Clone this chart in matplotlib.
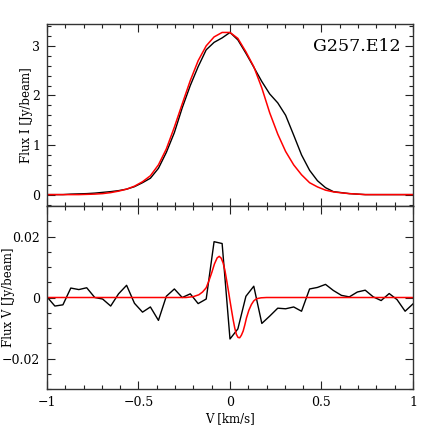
import matplotlib
matplotlib.use("Agg")
import matplotlib.pyplot as plt
from matplotlib.ticker import MultipleLocator

# --- channel velocities (km/s) ---
vel = [-1.000, -0.957, -0.913, -0.870, -0.826, -0.783, -0.739, -0.696,
       -0.652, -0.609, -0.565, -0.522, -0.478, -0.435, -0.391, -0.348,
       -0.304, -0.261, -0.217, -0.174, -0.130, -0.087, -0.043, 0.000,
       0.043, 0.087, 0.130, 0.174, 0.217, 0.261, 0.304, 0.348,
       0.391, 0.435, 0.478, 0.522, 0.565, 0.609, 0.652, 0.696,
       0.739, 0.783, 0.826, 0.870, 0.913, 0.957, 1.000]

# --- Stokes I: observed and model ---
flux_i = [0.0, 0.0, 0.0, 0.01, 0.015, 0.02, 0.03, 0.045,
          0.06, 0.08, 0.11, 0.16, 0.24, 0.33, 0.53, 0.85,
          1.25, 1.75, 2.20, 2.58, 2.92, 3.07, 3.16, 3.27,
          3.12, 2.85, 2.57, 2.28, 2.03, 1.85, 1.60, 1.20,
          0.80, 0.49, 0.28, 0.14, 0.06, 0.04, 0.02, 0.01,
          0.0, 0.0, 0.0, 0.0, 0.0, 0.0, 0.0]
model_i = [0.0, 0.0, 0.0, 0.0, 0.0, 0.005, 0.01, 0.02,
           0.04, 0.07, 0.11, 0.17, 0.26, 0.38, 0.60, 0.92,
           1.36, 1.83, 2.30, 2.70, 3.00, 3.18, 3.27, 3.27,
           3.15, 2.88, 2.58, 2.15, 1.65, 1.22, 0.87, 0.60,
           0.40, 0.24, 0.155, 0.09, 0.055, 0.035, 0.02, 0.01,
           0.0, 0.0, 0.0, 0.0, 0.0, 0.0, 0.0]

# --- Stokes V: observed ---
flux_v = [0.0002, -0.0028, -0.0024, 0.0031, 0.0026, 0.0032, 0.0000, -0.0005,
          -0.0028, 0.0012, 0.0040, -0.0019, -0.0048, -0.0031, -0.0075, 0.0004,
          0.0028, 0.0000, 0.0012, -0.0020, -0.0005, 0.0183, 0.0177, -0.0136,
          -0.0103, 0.0004, 0.0037, -0.0085, -0.0061, -0.0035, -0.0037, -0.0031,
          -0.0045, 0.0028, 0.0033, 0.0043, 0.0023, 0.0007, 0.0002, 0.0018,
          0.0024, 0.0002, -0.0010, 0.0013, -0.0007, -0.0045, -0.0021]

# --- Stokes V: model (finer sampling) ---
vel_fit = [-1.0, -0.24, -0.20, -0.17, -0.15, -0.13, -0.115, -0.10, -0.085,
           -0.07, -0.059, -0.048, -0.038, -0.028, -0.019, -0.010, -0.001,
           0.008, 0.017, 0.026, 0.035, 0.044, 0.053, 0.062, 0.072, 0.081,
           0.090, 0.103, 0.117, 0.13, 0.145, 0.17, 0.20, 1.0]
model_v = [0.0, 0.0, 0.0003, 0.0009, 0.0018, 0.0032, 0.0055, 0.0081, 0.0110,
           0.0130, 0.0135, 0.0129, 0.0114, 0.0090, 0.0059, 0.0027, -0.0007,
           -0.0040, -0.0072, -0.0100, -0.0121, -0.0131, -0.0132, -0.0124, -0.0110, -0.0090,
           -0.0067, -0.0042, -0.0023, -0.0011, -0.0004, -0.0001, 0.0, 0.0]

plt.rcParams["font.family"] = "DejaVu Serif"
plt.rcParams["font.size"] = 8.5

fig = plt.figure(figsize=(4.36, 4.36), dpi=100)
ax1 = fig.add_axes([0.1078, 0.5275, 0.8394, 0.4174])
ax2 = fig.add_axes([0.1078, 0.1078, 0.8394, 0.4197])

ax1.plot(vel, flux_i, color="black", lw=1.0)
ax1.plot(vel, model_i, color="red", lw=1.1)
ax2.plot(vel, flux_v, color="black", lw=1.0)
ax2.plot(vel_fit, model_v, color="red", lw=1.1)

ax1.set_xlim(-1, 1)
ax1.set_ylim(-0.23, 3.44)
ax2.set_xlim(-1, 1)
ax2.set_ylim(-0.03, 0.03)

ax1.xaxis.set_major_locator(MultipleLocator(0.5))
ax1.xaxis.set_minor_locator(MultipleLocator(0.1))
ax1.yaxis.set_major_locator(MultipleLocator(1))
ax1.yaxis.set_minor_locator(MultipleLocator(0.2))
ax2.xaxis.set_major_locator(MultipleLocator(0.5))
ax2.xaxis.set_minor_locator(MultipleLocator(0.1))
ax2.yaxis.set_major_locator(MultipleLocator(0.02))
ax2.yaxis.set_minor_locator(MultipleLocator(0.005))

for ax in (ax1, ax2):
    ax.tick_params(which="both", direction="in", top=True, right=True,
                   width=0.8, colors="#222222", labelcolor="black",
                   labelsize=9)
    ax.tick_params(which="major", length=6, pad=5)
    ax.tick_params(which="minor", length=3)
    for sp in ax.spines.values():
        sp.set_linewidth(1.0)
        sp.set_color("#333333")

ax1.tick_params(labelbottom=False)
ax2.set_yticks([-0.02, 0, 0.02])
ax2.set_yticklabels(["\u22120.02", "0", "0.02"])
ax2.set_xticks([-1, -0.5, 0, 0.5, 1])
ax2.set_xticklabels(["\u22121", "\u22120.5", "0", "0.5", "1"])

ax1.set_ylabel("Flux I [Jy/beam]")
ax1.yaxis.set_label_coords(-0.038, 0.5)
ax2.set_ylabel("Flux V [Jy/beam]")
ax2.yaxis.set_label_coords(-0.088, 0.5)
ax2.set_xlabel("V [km/s]", labelpad=2)

ax1.text(0.965, 0.875, "G257.E12", transform=ax1.transAxes,
         ha="right", va="center", fontsize=12.5)

fig.savefig("out.png", dpi=100)
